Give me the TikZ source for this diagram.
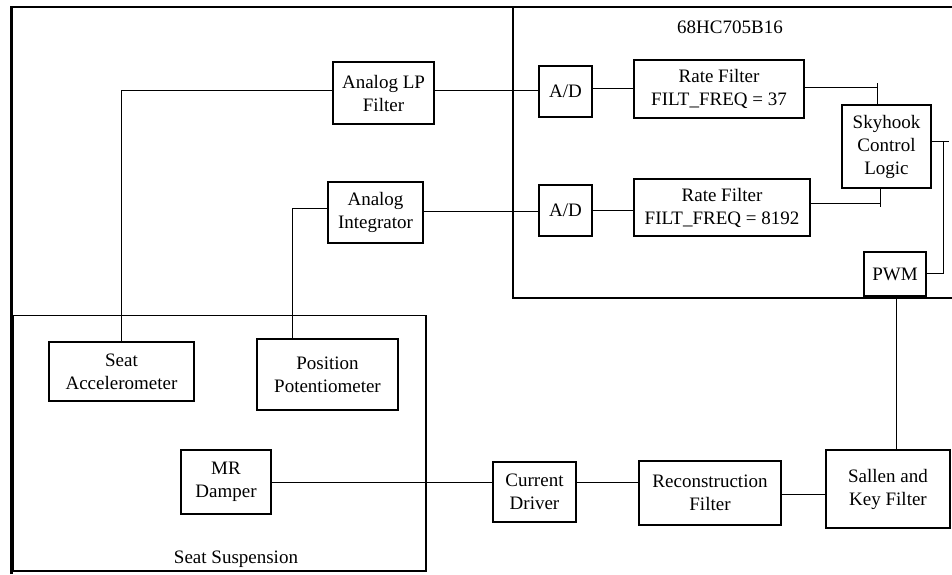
\documentclass[tikz,border=0pt]{standalone}
\usepackage{fontspec}
\setmainfont{Liberation Serif}
\begin{document}
\begin{tikzpicture}[x=1pt,y=-1pt,
  blk/.style={draw, line width=1.1pt, align=center, inner sep=0pt, font=\fontsize{19}{23}\selectfont},
  wire/.style={line width=0.9pt},
  lbl/.style={inner sep=0pt, font=\fontsize{19}{23}\selectfont}]
\useasboundingbox (0,0) rectangle (952,574);
\clip (0,0) rectangle (952,574);
% outer frame
\draw[line width=2.2pt] (11.5,574) -- (11.5,6.8) -- (960,6.8);
% microcontroller
\draw[line width=1.4pt] (513,7) rectangle (1000,298);
\node[lbl] (mcu) at (730,27) {68HC705B16};
% seat suspension
\draw[line width=1.2pt] (13,315.5) rectangle (426,571);
\node[lbl, anchor=base] (ss) at (236,563) {Seat Suspension};
% blocks
\node[blk, minimum width=101pt, minimum height=62pt] (alp) at (383.5,93) {Analog LP\\Filter};
\node[blk, minimum width=53pt, minimum height=51pt] (ad1) at (565.5,91.5) {A/D};
\node[blk, minimum width=170pt, minimum height=58pt] (rf1) at (719,89) {Rate Filter\\FILT\_FREQ = 37};
\node[blk, minimum width=89pt, minimum height=83pt] (sky) at (886.5,146.5) {Skyhook\\Control\\Logic};
\node[blk, minimum width=95pt, minimum height=61pt] (ai) at (375.5,212.5) {Analog\\Integrator};
\node[blk, minimum width=53pt, minimum height=51pt] (ad2) at (565.5,210.5) {A/D};
\node[blk, minimum width=176pt, minimum height=57pt] (rf2) at (722,207.5) {Rate Filter\\FILT\_FREQ = 8192};
\node[blk, minimum width=62pt, minimum height=44pt] (pwm) at (895,274) {PWM};
\node[blk, minimum width=145pt, minimum height=59pt] (sa) at (121.5,371.5) {Seat\\Accelerometer};
\node[blk, minimum width=141pt, minimum height=71pt] (pp) at (327.5,374.5) {Position\\Potentiometer};
\node[blk, minimum width=90pt, minimum height=64pt] (mr) at (226,482) {MR\\Damper};
\node[blk, minimum width=83pt, minimum height=60pt] (cd) at (534.5,492) {Current\\Driver};
\node[blk, minimum width=142pt, minimum height=64pt] (rec) at (710,493) {Reconstruction\\Filter};
\node[blk, minimum width=124pt, minimum height=78pt] (sk) at (888,489) {Sallen and\\Key Filter};
% connectors
\draw[wire] ([yshift=3pt]alp.west) -| (sa.north);
\draw[wire] ([xshift=-0.5pt,yshift=1.5pt]sa.north |- alp.west) -- ++(0,-5pt);
\draw[wire] ([yshift=3pt]alp.east) -- ([yshift=3pt]alp.east -| ad1.west);
\draw[wire] ([yshift=3.5pt]ad1.east) -- ([yshift=3.5pt]ad1.east -| rf1.west);
\draw[wire] ([yshift=2pt]rf1.east) -| ([xshift=-9.5pt]sky.north);
\draw[wire] ([xshift=-9.5pt,yshift=2pt]sky.north |- rf1.east) -- ++(0,4pt);
\draw[wire] ([yshift=4.5pt]ai.west) -| ([xshift=-35.5pt]pp.north);
\draw[wire] ([yshift=1.5pt]ai.east) -- ([yshift=1.5pt]ai.east -| ad2.west);
\draw[wire] (ad2.east) -- (ad2.east -| rf2.west);
\draw[wire] ([yshift=4.5pt]rf2.east) -| ([xshift=-6.5pt]sky.south);
\draw[wire] ([xshift=-6.5pt,yshift=4.5pt]sky.south |- rf2.east) -- ++(0,-4pt);
\draw[wire] ([yshift=5.5pt]sky.east) -- ++(12pt,0) coordinate (sk1) |- ([yshift=1pt]pwm.east);
\draw[wire] (sk1) -- ++(5pt,0);
\draw[wire] ([xshift=1pt]pwm.south) -- ([xshift=1pt]pwm.south |- sk.north);
\draw[wire] (mr.east) -- (mr.east -| cd.west);
\draw[wire] ([yshift=10pt]cd.east) -- ([yshift=10pt]cd.east -| rec.west);
\draw[wire] ([yshift=-1pt]rec.east) -- ([yshift=-1pt]rec.east -| sk.west);
\end{tikzpicture}
\end{document}
